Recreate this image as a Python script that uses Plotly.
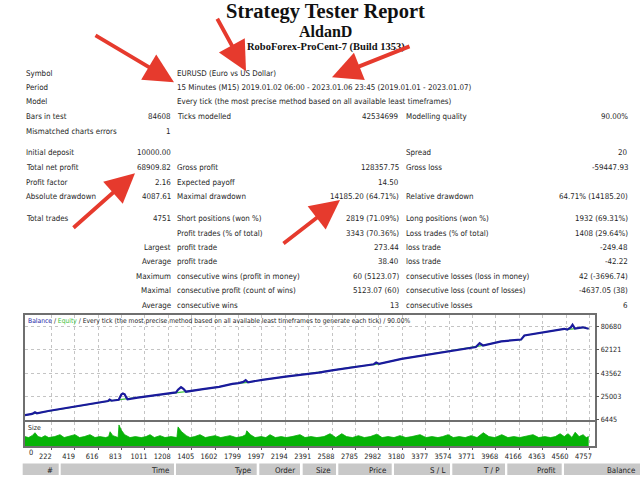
import plotly.graph_objects as go

W, H = 640, 480

# ---- report header ----
TITLE = "Strategy Tester Report"
EA_NAME = "AldanD"
SERVER = "RoboForex-ProCent-7 (Build 1353)"

# ---- summary table (label, value, label, value, label, value) ----
SUMMARY_ROWS = [
    ["Symbol", "", "EURUSD (Euro vs US Dollar)", "", "", ""],
    ["Period", "", "15 Minutes (M15) 2019.01.02 06:00 - 2023.01.06 23:45 (2019.01.01 - 2023.01.07)", "", "", ""],
    ["Model", "", "Every tick (the most precise method based on all available least timeframes)", "", "", ""],
    ["Bars in test", "84608", "Ticks modelled", "42534699", "Modelling quality", "90.00%"],
    ["Mismatched charts errors", "1", "", "", "", ""],
    ["Initial deposit", "10000.00", "", "", "Spread", "20"],
    ["Total net profit", "68909.82", "Gross profit", "128357.75", "Gross loss", "-59447.93"],
    ["Profit factor", "2.16", "Expected payoff", "14.50", "", ""],
    ["Absolute drawdown", "4087.61", "Maximal drawdown", "14185.20 (64.71%)", "Relative drawdown", "64.71% (14185.20)"],
    ["Total trades", "4751", "Short positions (won %)", "2819 (71.09%)", "Long positions (won %)", "1932 (69.31%)"],
    ["", "", "Profit trades (% of total)", "3343 (70.36%)", "Loss trades (% of total)", "1408 (29.64%)"],
    ["", "Largest", "profit trade", "273.44", "loss trade", "-249.48"],
    ["", "Average", "profit trade", "38.40", "loss trade", "-42.22"],
    ["", "Maximum", "consecutive wins (profit in money)", "60 (5123.07)", "consecutive losses (loss in money)", "42 (-3696.74)"],
    ["", "Maximal", "consecutive profit (count of wins)", "5123.07 (60)", "consecutive loss (count of losses)", "-4637.05 (38)"],
    ["", "Average", "consecutive wins", "13", "consecutive losses", "6"],
]

# ---- balance / equity curve (trade number -> money) ----
TRADE_NO = [0, 60, 84, 100, 196, 300, 400, 476, 600, 700,
            713, 730, 790, 800, 812, 825, 840, 852, 864, 950,
            1091, 1200, 1273, 1290, 1315, 1335, 1357, 1500, 1636, 1748,
            1800, 1840, 1860, 1880, 2000, 2196, 2350, 2475, 2587, 2754,
            2940, 2960, 2985, 3174, 3426, 3594, 3750, 3800, 3832, 3860,
            4014, 4181, 4209, 4432, 4545, 4570, 4600, 4615, 4635, 4700,
            4751]
BALANCE = [10000, 11000, 12300, 11500, 13300, 15000, 16600, 18000, 19800, 21300,
           22400, 21500, 22300, 24300, 26500, 27300, 26600, 24300, 22700, 23900,
           25700, 27000, 28100, 30300, 32400, 31000, 28700, 30800, 32600, 35000,
           35500, 36500, 37900, 36200, 38200, 40700, 42400, 43900, 45700, 48300,
           50600, 52000, 50900, 54900, 58800, 61000, 63700, 64300, 67400, 65600,
           68900, 70300, 73600, 76900, 78900, 78200, 80000, 82100, 79100, 80100,
           78910]
EQUITY = [10000, 11000, 11300, 11500, 13300, 15000, 16600, 18000, 19800, 21300,
          21400, 21500, 22300, 22350, 22400, 22500, 22600, 22650, 22700, 23900,
          25700, 27000, 28100, 28200, 28300, 28500, 28700, 30800, 32600, 35000,
          35500, 35800, 36000, 36200, 38200, 40700, 42400, 43900, 45700, 48300,
          50600, 50700, 50900, 54900, 58800, 61000, 63700, 64300, 65000, 65600,
          68900, 70300, 73600, 76900, 78900, 78200, 78400, 78500, 79100, 80100,
          78910]

# ---- lot size per trade ----
SIZE_TRADE = [0, 30, 60, 84, 110, 140, 169, 200, 250, 295,
              330, 370, 421, 460, 500, 548, 590, 630, 680, 705,
              717, 740, 770, 785, 792, 810, 840, 885, 930, 980,
              1020, 1054, 1090, 1138, 1180, 1230, 1280, 1290, 1320, 1360,
              1391, 1430, 1475, 1520, 1560, 1602, 1650, 1690, 1728, 1780,
              1830, 1860, 1869, 1900, 1939, 1990, 2030, 2065, 2110, 2160,
              2200, 2250, 2318, 2360, 2410, 2460, 2520, 2571, 2620, 2670,
              2710, 2760, 2810, 2860, 2910, 2965, 3010, 3060, 3110, 3160,
              3210, 3260, 3330, 3380, 3430, 3480, 3520, 3566, 3610, 3660,
              3710, 3760, 3810, 3863, 3910, 3960, 4019, 4070, 4120, 4170,
              4220, 4282, 4330, 4380, 4430, 4470, 4510, 4545, 4578, 4610,
              4637, 4670, 4704, 4730, 4751]
SIZE_LOTS = [0.10, 0.09, 0.11, 0.14, 0.10, 0.09, 0.11, 0.09, 0.10, 0.12,
             0.09, 0.10, 0.12, 0.09, 0.10, 0.12, 0.09, 0.10, 0.09, 0.10,
             0.15, 0.11, 0.10, 0.09, 0.22, 0.17, 0.12, 0.09, 0.10, 0.09,
             0.10, 0.12, 0.09, 0.11, 0.09, 0.10, 0.09, 0.20, 0.15, 0.11,
             0.09, 0.10, 0.12, 0.09, 0.10, 0.11, 0.09, 0.10, 0.11, 0.09,
             0.10, 0.12, 0.16, 0.12, 0.09, 0.10, 0.09, 0.12, 0.09, 0.10,
             0.09, 0.10, 0.12, 0.09, 0.10, 0.09, 0.10, 0.13, 0.09, 0.13,
             0.10, 0.09, 0.11, 0.09, 0.10, 0.125, 0.09, 0.10, 0.09, 0.11,
             0.09, 0.10, 0.12, 0.09, 0.10, 0.09, 0.10, 0.12, 0.09, 0.10,
             0.09, 0.11, 0.09, 0.14, 0.10, 0.09, 0.12, 0.09, 0.10, 0.09,
             0.10, 0.12, 0.09, 0.10, 0.09, 0.10, 0.13, 0.10, 0.13, 0.09,
             0.145, 0.10, 0.12, 0.09, 0.10]

Y_TICKS = [6445, 25003, 43562, 62121, 80680]
X_TICKS = [222, 419, 616, 813, 1011, 1208, 1405, 1602, 1799, 1997, 2194, 2391,
           2588, 2785, 2982, 3180, 3377, 3574, 3771, 3968, 4166, 4363, 4560, 4757]

HEADER_COLS = ["#", "Time", "Type", "Order", "Size", "Price", "S / L", "T / P", "Profit", "Balance"]

FONT = "Liberation Sans Narrow, DejaVu Sans Condensed, Liberation Sans, sans-serif"
SERIF = "Liberation Serif, Times New Roman, serif"
TXT = "#1e1e1e"
BODY = 7.9
SMALL = 7.4


def px(x):
    return x / W


def py(y):
    return 1 - y / H


fig = go.Figure()

fig.add_trace(go.Scatter(x=SIZE_TRADE, y=SIZE_LOTS, mode="lines", fill="tozeroy",
                         line=dict(color="#06ad06", width=0.8), fillcolor="#06b306",
                         xaxis="x2", yaxis="y2"))
fig.add_trace(go.Scatter(x=TRADE_NO, y=EQUITY, mode="lines",
                         line=dict(color="#3ec43e", width=1.2)))
fig.add_trace(go.Scatter(x=TRADE_NO, y=BALANCE, mode="lines",
                         line=dict(color="#1a1a9c", width=2.2)))

ann = []

# header
ann.append(dict(x=px(325), y=py(12), text="<b>" + TITLE + "</b>",
                font=dict(family=SERIF, size=20.5, color="#111")))
ann.append(dict(x=px(325), y=py(32), text="<b>" + EA_NAME + "</b>",
                font=dict(family=SERIF, size=16, color="#111")))
ann.append(dict(x=px(326), y=py(47), text="<b>" + SERVER + "</b>",
                font=dict(family=SERIF, size=10.5, color="#111")))

# summary table
row_y = [74, 88.5, 103, 117.5, 132.5, 154.5, 169, 184, 198.5, 221,
         235.5, 250, 264.5, 279.5, 294, 308.5]
col_pos = [(25, "left"), (171.5, "right"), (176, "left"),
           (400, "right"), (405, "left"), (628.5, "right")]
for row, yy in zip(SUMMARY_ROWS, row_y):
    for cell, (xx, anchor) in zip(row, col_pos):
        if cell:
            ann.append(dict(x=px(xx), y=py(yy), text=cell, xanchor=anchor,
                            font=dict(family=FONT, size=BODY, color=TXT)))

# chart caption
ann.append(dict(x=px(27), y=py(324), xanchor="left",
                text='<span style="color:#1c1ca8">Balance</span> / '
                     '<span style="color:#3cbf3c">Equity</span> / Every tick (the most precise '
                     'method based on all available least timeframes to generate each tick) / 90.00%',
                font=dict(family=FONT, size=6.7, color=TXT)))
ann.append(dict(x=px(27), y=py(432), xanchor="left", text="Size",
                font=dict(family=FONT, size=6.9, color=TXT)))
ann.append(dict(x=px(27.5), y=py(457), text="0",
                font=dict(family=FONT, size=SMALL, color=TXT)))

# trades table header
cells = [(22.7, 58.7), (60.7, 174), (176, 256.7), (259.3, 300), (302.7, 336),
         (338.3, 391.7), (394, 450), (452.3, 505), (507.3, 561.7), (564, 640)]
shapes = []
for name, (x0, x1) in zip(HEADER_COLS, cells):
    shapes.append(dict(type="rect", xref="paper", yref="paper", x0=px(x0), x1=px(x1),
                       y0=py(480), y1=py(468.3), fillcolor="#c8c8c8", line=dict(width=0),
                       layer="below"))
    ann.append(dict(x=px(x1 - 4.5), y=py(475), text=name, xanchor="right",
                    font=dict(family=FONT, size=BODY, color=TXT)))

# red arrows (tail -> tip)
arrows = [((95, 36), (174, 83)), ((217, 19), (246, 72)), ((410, 47), (332, 78)),
          ((73, 230), (135, 175)), ((283, 246), (340, 202))]
for (tx, ty), (hx, hy) in arrows:
    ann.append(dict(x=px(hx), y=py(hy), ax=tx - hx, ay=ty - hy, text="",
                    showarrow=True, arrowhead=2, arrowsize=1.55, arrowwidth=3.8,
                    arrowcolor="#e63a2d"))

for a in ann:
    a.setdefault("xref", "paper")
    a.setdefault("yref", "paper")
    a.setdefault("showarrow", False)
    a.setdefault("yanchor", "middle")
    a.setdefault("borderpad", 0)

frame = dict(showline=True, mirror=True, linecolor="#6f6f6f", linewidth=1.5)
grid = dict(showgrid=True, gridcolor="#c4c4c4", griddash="dot", gridwidth=1, zeroline=False)

fig.update_layout(
    width=W, height=H,
    margin=dict(l=0, r=0, t=0, b=0),
    paper_bgcolor="white", plot_bgcolor="white",
    showlegend=False,
    annotations=ann,
    shapes=shapes,
    xaxis=dict(domain=[px(25), px(594.5)], range=[0, 4800], tickvals=X_TICKS,
               showticklabels=False, ticks="", anchor="y", **frame, **grid),
    yaxis=dict(domain=[py(424), py(318)], range=[6445, 90160], tickvals=Y_TICKS,
               tickformat="d", side="right", ticks="outside", ticklen=3, tickcolor="#555",
               tickfont=dict(family=FONT, size=7.2, color=TXT), anchor="x", **frame, **grid),
    xaxis2=dict(domain=[px(25), px(594.5)], range=[0, 4800], tickvals=X_TICKS,
                tickformat="d", ticks="outside", ticklen=2, tickcolor="#555", ticklabelshift=-6,
                tickfont=dict(family=FONT, size=SMALL, color=TXT), anchor="y2", **frame, **grid),
    yaxis2=dict(domain=[py(451), py(426.5)], range=[0, 0.25], showticklabels=False,
                ticks="", showgrid=False, zeroline=False, anchor="x2",
                showline=True, mirror=True, linecolor="#6f6f6f", linewidth=1.5),
)

# drop the browser's default body margin so the figure sits at the window corner
fig.write_html("out.html", config={"displayModeBar": False},
               post_script="document.body.style.margin='0';")
